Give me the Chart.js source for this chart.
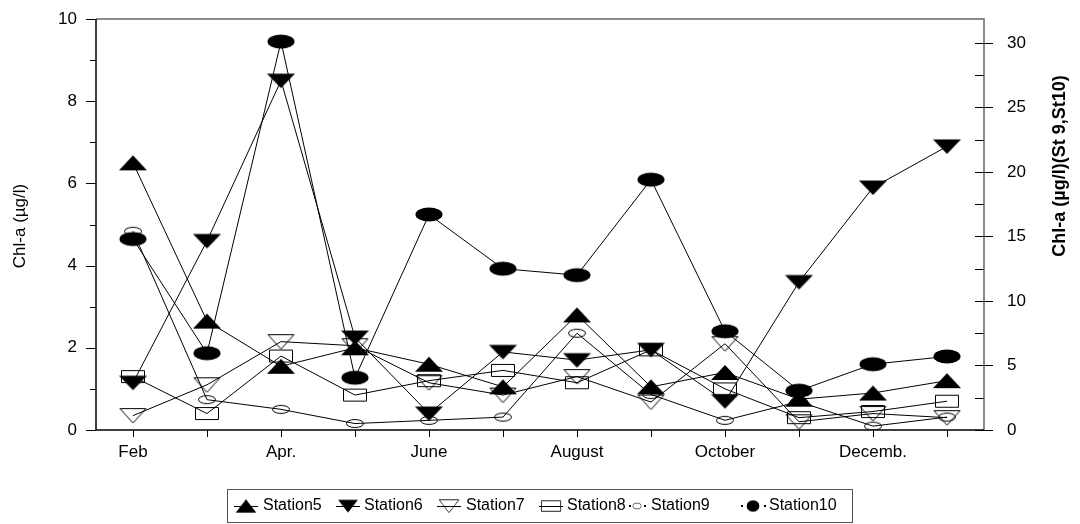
<!DOCTYPE html>
<html>
<head>
<meta charset="utf-8">
<script src="https://cdn.jsdelivr.net/npm/chart.js@4"></script>
<style>
  body { margin: 0; background: #fff; }
  canvas { display: block; }
</style>
</head>
<body>
<canvas id="chlChart" width="1080" height="524"></canvas>
<script>
// Months (x categories) and the labels actually printed under the axis
const months = ['Feb', 'Mar', 'Apr.', 'May', 'June', 'July', 'August', 'Sep', 'October', 'Nov', 'Decemb.', 'Jan'];
const monthLabels = ['Feb', '', 'Apr.', '', 'June', '', 'August', '', 'October', '', 'Decemb.', ''];

// Left axis stations (µg/l)
const station5 = [6.5, 2.65, 1.55, 2.0, 1.6, 1.05, 2.8, 1.05, 1.4, 0.75, 0.9, 1.2];
const station6 = [1.15, 4.6, 8.5, 2.25, 0.4, 1.9, 1.7, 1.95, 0.7, 3.6, 5.9, 6.9];
const station7 = [0.35, 1.1, 2.15, 2.05, 1.15, 0.85, 1.3, 0.68, 2.1, 0.2, 0.4, 0.3];
const station8 = [1.3, 0.4, 1.8, 0.85, 1.2, 1.45, 1.15, 1.95, 1.0, 0.3, 0.45, 0.7];

// Right axis stations (µg/l)
const station9 = [15.4, 2.35, 1.6, 0.5, 0.75, 1.0, 7.5, 2.75, 0.75, 2.2, 0.3, 1.0];
const station10 = [14.8, 5.95, 30.1, 4.05, 16.7, 12.5, 12.0, 19.4, 7.65, 3.05, 5.1, 5.7];

// Axis ticks
const leftTicks = [0, 2, 4, 6, 8, 10];
const rightTicks = [0, 5, 10, 15, 20, 25, 30];

// Marker shapes (the original symbols are squashed, so build them as small canvases)
// open symbols are see-through like in the original
function makeMarker(kind, w, h) {
    const c = document.createElement('canvas');
    c.width = w + 2;
    c.height = h + 2;
    const g = c.getContext('2d');
    g.translate(1, 1);
    g.lineWidth = 1;
    g.strokeStyle = '#000';
    g.fillStyle = '#000';
    g.beginPath();
    if (kind === 'up') {
        g.moveTo(0, h); g.lineTo(w / 2, 0); g.lineTo(w, h); g.closePath();
        g.fill();
    } else if (kind === 'down' || kind === 'downOpen') {
        g.moveTo(0.5, 0.5); g.lineTo(w - 0.5, 0.5); g.lineTo(w / 2, h); g.closePath();
        if (kind === 'down') g.fill();
        else g.stroke();
    } else if (kind === 'rect') {
        g.rect(0.5, 0.5, w - 1, h - 1);
        g.stroke();
    } else {
        g.ellipse(w / 2, h / 2, w / 2 - 0.5, h / 2 - 0.5, 0, 0, Math.PI * 2);
        if (kind === 'ell') g.fill();
        else g.stroke();
    }
    return c;
}

const markers = {
    s5: makeMarker('up', 28, 15),
    s6: makeMarker('down', 29, 15),
    s7: makeMarker('downOpen', 27, 15),
    s8: makeMarker('rect', 24, 13),
    s9: makeMarker('ellOpen', 18, 9),
    s10: makeMarker('ell', 28, 15)
};

function series(label, data, axis, marker, order) {
    return {
        label: label,
        data: data,
        yAxisID: axis,
        borderColor: '#000',
        borderWidth: 1,
        pointStyle: marker,
        pointRadius: 8,
        tension: 0,
        fill: false,
        order: order
    };
}

// fixed axis box sizes so the plot area lands where the original has it
function fixWidth(s) {
    s.width = 96;
    s.paddingTop = 0;
    s.paddingBottom = 0;
}

// Frame, tick marks, axis titles and legend
const framePlugin = {
    id: 'frame',
    beforeDatasetsDraw(chart) {
        const ctx = chart.ctx;
        const a = chart.chartArea;
        const ys = chart.scales.y, y1 = chart.scales.y1, xs = chart.scales.x;
        ctx.save();
        ctx.lineWidth = 1;
        ctx.strokeStyle = '#000';
        ctx.beginPath();
        for (let v = 0; v <= 10; v++) {
            const py = Math.round(ys.getPixelForValue(v)) + 0.5;
            ctx.moveTo(a.left - (v % 2 === 0 ? 10 : 6), py);
            ctx.lineTo(a.left, py);
        }
        for (let v = 0; v <= 30; v += 2.5) {
            const py = Math.round(y1.getPixelForValue(v)) + 0.5;
            ctx.moveTo(a.right - 9, py);
            ctx.lineTo(a.right + (v % 5 === 0 ? 9 : 0), py);
        }
        for (let i = 0; i < months.length; i++) {
            const px = Math.round(xs.getPixelForValue(i)) + 0.5;
            ctx.moveTo(px, a.bottom);
            ctx.lineTo(px, a.bottom + 7);
        }
        ctx.stroke();

        ctx.lineWidth = 1.5;
        ctx.strokeStyle = '#666';
        ctx.beginPath();
        ctx.moveTo(a.left, a.top);
        ctx.lineTo(a.right, a.top);
        ctx.lineTo(a.right, a.bottom);
        ctx.stroke();
        ctx.strokeStyle = '#000';
        ctx.beginPath();
        ctx.moveTo(a.left, a.top);
        ctx.lineTo(a.left, a.bottom);
        ctx.lineTo(a.right, a.bottom);
        ctx.stroke();
        ctx.restore();
    },
    afterDraw(chart) {
        const ctx = chart.ctx;
        ctx.save();
        ctx.fillStyle = '#000';
        ctx.textAlign = 'center';
        ctx.textBaseline = 'middle';

        // axis titles
        ctx.font = '17px "Liberation Sans", Arial, sans-serif';
        ctx.save();
        ctx.translate(20, 226);
        ctx.rotate(-Math.PI / 2);
        ctx.fillText('Chl-a (µg/l)', 0, 0);
        ctx.restore();
        ctx.font = 'bold 18px "Liberation Sans", Arial, sans-serif';
        ctx.save();
        ctx.translate(1060, 166);
        ctx.rotate(-Math.PI / 2);
        ctx.fillText('Chl-a (µg/l)(St 9,St10)', 0, 0);
        ctx.restore();

        // legend box
        ctx.lineWidth = 1;
        ctx.strokeStyle = '#555';
        ctx.strokeRect(227.5, 489.5, 625, 33);

        const ly = 506;
        const drawM = (m, cx, w, h) => ctx.drawImage(m, cx - w / 2, ly - h / 2, w, h);
        drawM(markers.s5, 246, 22, 15);
        drawM(markers.s6, 348, 22, 15);
        drawM(markers.s7, 449, 22, 15);
        drawM(markers.s8, 551, 22, 13);
        drawM(markers.s9, 637, 10, 8);
        drawM(markers.s10, 753, 14, 14);

        ctx.strokeStyle = '#000';
        ctx.beginPath();
        [246, 348, 449, 551].forEach(cx => {
            ctx.moveTo(cx - 12, ly + 0.5);
            ctx.lineTo(cx + 12, ly + 0.5);
        });
        ctx.stroke();
        ctx.fillRect(629, ly - 1, 2, 2);
        ctx.fillRect(644, ly - 1, 2, 2);
        ctx.fillRect(741, ly - 1, 2, 2);
        ctx.fillRect(764, ly - 1, 2, 2);

        ctx.font = '16px "Liberation Sans", Arial, sans-serif';
        ctx.textAlign = 'left';
        ctx.fillText('Station5', 263, ly);
        ctx.fillText('Station6', 364, ly);
        ctx.fillText('Station7', 466, ly);
        ctx.fillText('Station8', 567, ly);
        ctx.fillText('Station9', 651, ly);
        ctx.fillText('Station10', 769, ly);
        ctx.restore();
    }
};

Chart.defaults.font.family = '"Liberation Sans", Arial, sans-serif';
Chart.defaults.font.size = 17;
Chart.defaults.color = '#000';

const ctx = document.getElementById('chlChart').getContext('2d');
const chlChart = new Chart(ctx, {
    type: 'line',
    data: {
        labels: months,
        datasets: [
            series('Station5', station5, 'y', markers.s5, 4),
            series('Station6', station6, 'y', markers.s6, 3),
            series('Station7', station7, 'y', markers.s7, 5),
            series('Station8', station8, 'y', markers.s8, 6),
            series('Station9', station9, 'y1', markers.s9, 2),
            series('Station10', station10, 'y1', markers.s10, 1)
        ]
    },
    options: {
        responsive: false,
        animation: false,
        devicePixelRatio: 1,
        layout: { padding: { top: 19, left: 0, right: 0, bottom: 0 } },
        plugins: {
            legend: { display: false },
            tooltip: { enabled: false }
        },
        scales: {
            x: {
                type: 'category',
                offset: true,
                grid: { display: false, drawTicks: false },
                border: { display: false },
                ticks: {
                    autoSkip: false,
                    maxRotation: 0,
                    padding: 12,
                    callback: (v, i) => monthLabels[i]
                },
                afterFit: s => { s.height = 94; s.paddingLeft = 0; s.paddingRight = 0; }
            },
            y: {
                position: 'left',
                min: 0,
                max: 10,
                grid: { display: false, drawTicks: false },
                border: { display: false },
                afterBuildTicks: s => { s.ticks = leftTicks.map(v => ({ value: v })); },
                ticks: { padding: 19 },
                afterFit: fixWidth
            },
            y1: {
                position: 'right',
                min: 0,
                max: 31.85,
                grid: { display: false, drawTicks: false },
                border: { display: false },
                afterBuildTicks: s => { s.ticks = rightTicks.map(v => ({ value: v })); },
                ticks: { padding: 23 },
                afterFit: fixWidth
            }
        }
    },
    plugins: [framePlugin]
});
</script>
</body>
</html>
